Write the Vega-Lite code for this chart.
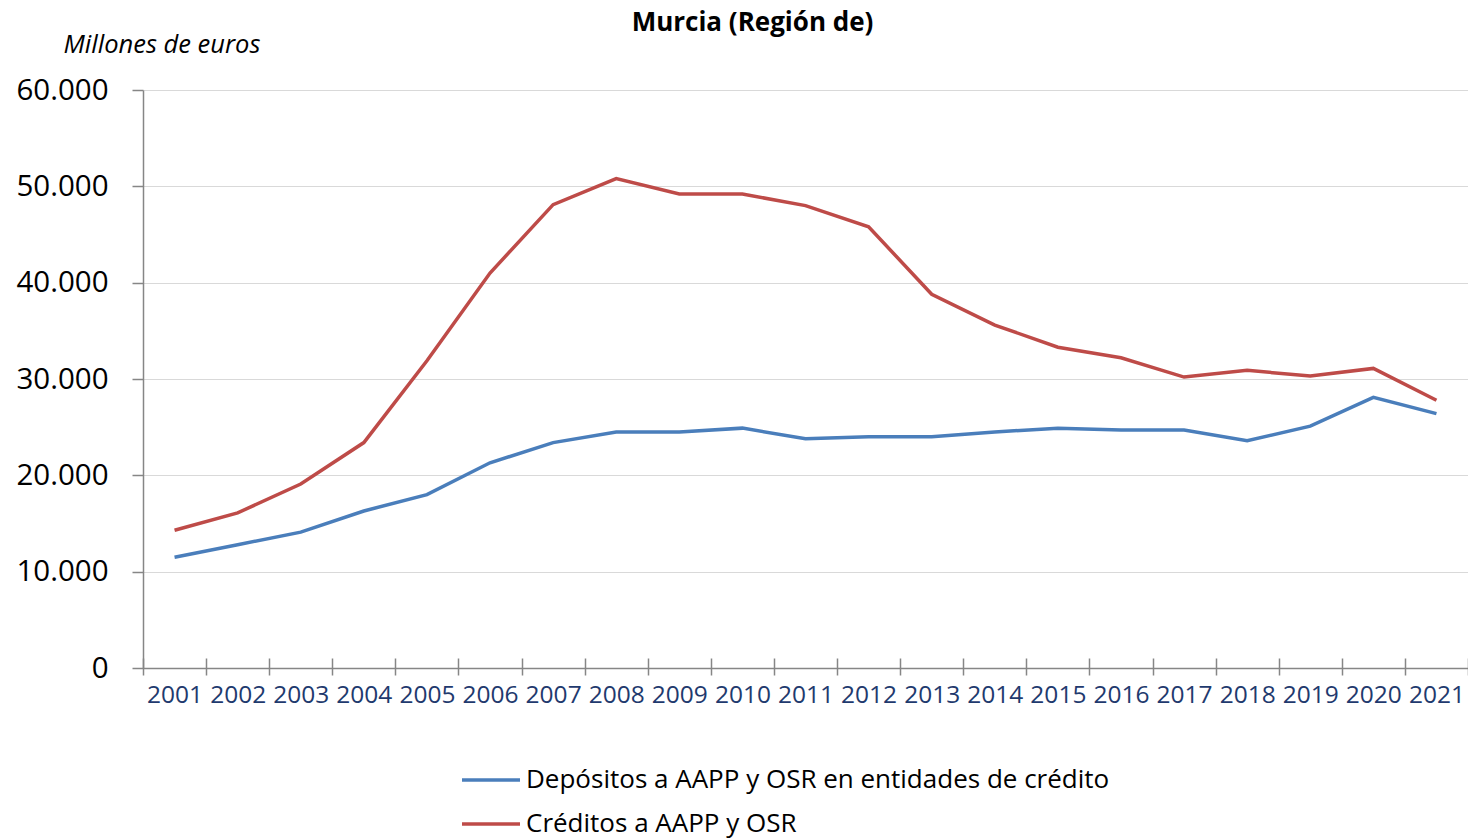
{
  "$schema": "https://vega.github.io/schema/vega-lite/v6.json",
  "autosize": {"type": "none"},
  "width": 1325,
  "height": 578,
  "padding": {"left": 143, "top": 90, "right": 0, "bottom": 171},
  "background": "white",
  "title": {
    "text": "Murcia (Región de)",
    "font": "Open Sans",
    "fontSize": 26,
    "fontWeight": "bold",
    "color": "black",
    "anchor": "middle",
    "frame": "group",
    "dx": -53,
    "dy": 14,
    "offset": 10
  },
  "data": {
    "values": [
      {"year": "2001", "serie": "Depósitos a AAPP y OSR en entidades de crédito", "value": 11500},
      {"year": "2002", "serie": "Depósitos a AAPP y OSR en entidades de crédito", "value": 12800},
      {"year": "2003", "serie": "Depósitos a AAPP y OSR en entidades de crédito", "value": 14100},
      {"year": "2004", "serie": "Depósitos a AAPP y OSR en entidades de crédito", "value": 16300},
      {"year": "2005", "serie": "Depósitos a AAPP y OSR en entidades de crédito", "value": 18000},
      {"year": "2006", "serie": "Depósitos a AAPP y OSR en entidades de crédito", "value": 21300},
      {"year": "2007", "serie": "Depósitos a AAPP y OSR en entidades de crédito", "value": 23400},
      {"year": "2008", "serie": "Depósitos a AAPP y OSR en entidades de crédito", "value": 24500},
      {"year": "2009", "serie": "Depósitos a AAPP y OSR en entidades de crédito", "value": 24500},
      {"year": "2010", "serie": "Depósitos a AAPP y OSR en entidades de crédito", "value": 24900},
      {"year": "2011", "serie": "Depósitos a AAPP y OSR en entidades de crédito", "value": 23800},
      {"year": "2012", "serie": "Depósitos a AAPP y OSR en entidades de crédito", "value": 24000},
      {"year": "2013", "serie": "Depósitos a AAPP y OSR en entidades de crédito", "value": 24000},
      {"year": "2014", "serie": "Depósitos a AAPP y OSR en entidades de crédito", "value": 24500},
      {"year": "2015", "serie": "Depósitos a AAPP y OSR en entidades de crédito", "value": 24900},
      {"year": "2016", "serie": "Depósitos a AAPP y OSR en entidades de crédito", "value": 24700},
      {"year": "2017", "serie": "Depósitos a AAPP y OSR en entidades de crédito", "value": 24700},
      {"year": "2018", "serie": "Depósitos a AAPP y OSR en entidades de crédito", "value": 23600},
      {"year": "2019", "serie": "Depósitos a AAPP y OSR en entidades de crédito", "value": 25100},
      {"year": "2020", "serie": "Depósitos a AAPP y OSR en entidades de crédito", "value": 28100},
      {"year": "2021", "serie": "Depósitos a AAPP y OSR en entidades de crédito", "value": 26400},
      {"year": "2001", "serie": "Créditos a AAPP y OSR", "value": 14300},
      {"year": "2002", "serie": "Créditos a AAPP y OSR", "value": 16100},
      {"year": "2003", "serie": "Créditos a AAPP y OSR", "value": 19100},
      {"year": "2004", "serie": "Créditos a AAPP y OSR", "value": 23400},
      {"year": "2005", "serie": "Créditos a AAPP y OSR", "value": 31900},
      {"year": "2006", "serie": "Créditos a AAPP y OSR", "value": 41000},
      {"year": "2007", "serie": "Créditos a AAPP y OSR", "value": 48100},
      {"year": "2008", "serie": "Créditos a AAPP y OSR", "value": 50800},
      {"year": "2009", "serie": "Créditos a AAPP y OSR", "value": 49200},
      {"year": "2010", "serie": "Créditos a AAPP y OSR", "value": 49200},
      {"year": "2011", "serie": "Créditos a AAPP y OSR", "value": 48000},
      {"year": "2012", "serie": "Créditos a AAPP y OSR", "value": 45800},
      {"year": "2013", "serie": "Créditos a AAPP y OSR", "value": 38800},
      {"year": "2014", "serie": "Créditos a AAPP y OSR", "value": 35600},
      {"year": "2015", "serie": "Créditos a AAPP y OSR", "value": 33300},
      {"year": "2016", "serie": "Créditos a AAPP y OSR", "value": 32200},
      {"year": "2017", "serie": "Créditos a AAPP y OSR", "value": 30200},
      {"year": "2018", "serie": "Créditos a AAPP y OSR", "value": 30900},
      {"year": "2019", "serie": "Créditos a AAPP y OSR", "value": 30300},
      {"year": "2020", "serie": "Créditos a AAPP y OSR", "value": 31100},
      {"year": "2021", "serie": "Créditos a AAPP y OSR", "value": 27800}
    ]
  },
  "mark": {"type": "line", "strokeWidth": 3.5},
  "encoding": {
    "x": {
      "field": "year",
      "type": "ordinal",
      "scale": {"type": "band", "paddingInner": 0, "paddingOuter": 0},
      "axis": {
        "title": null,
        "tickBand": "extent",
        "labelAngle": 0,
        "labelFont": "Open Sans",
        "labelFontSize": 24.5,
        "labelColor": "#1F3A6E",
        "labelPadding": 8,
        "tickColor": "#868686",
        "tickSize": 17,
        "tickWidth": 1.5,
        "domain": false,
        "offset": -10,
        "grid": false
      }
    },
    "y": {
      "field": "value",
      "type": "quantitative",
      "scale": {"domain": [0, 60000]},
      "axis": {
        "values": [0, 10000, 20000, 30000, 40000, 50000, 60000],
        "labelExpr": "replace(format(datum.value, ','), ',', '.')",
        "labelFont": "Open Sans",
        "labelFontSize": 29.5,
        "labelColor": "black",
        "labelPadding": 24,
        "tickSize": 11,
        "tickColor": "#868686",
        "tickWidth": 1.5,
        "domainColor": "#868686",
        "domainWidth": 1.5,
        "grid": true,
        "gridColor": {"condition": {"test": "datum.value === 0", "value": "#868686"}, "value": "#D9D9D9"},
        "gridWidth": {"condition": {"test": "datum.value === 0", "value": 1.5}, "value": 1.2},
        "title": "Millones de euros",
        "titleAngle": 0,
        "titleAlign": "left",
        "titleBaseline": "middle",
        "titleX": -80,
        "titleY": -46,
        "titleFont": "Open Sans",
        "titleFontSize": 25.5,
        "titleFontStyle": "italic",
        "titleFontWeight": "normal",
        "titleColor": "black"
      }
    },
    "color": {
      "field": "serie",
      "type": "nominal",
      "scale": {
        "domain": ["Depósitos a AAPP y OSR en entidades de crédito", "Créditos a AAPP y OSR"],
        "range": ["#4A7EBB", "#BE4B48"]
      },
      "legend": {
        "title": null,
        "orient": "none",
        "legendX": 317,
        "legendY": 659,
        "direction": "vertical",
        "columns": 1,
        "symbolType": "stroke",
        "symbolSize": 3364,
        "symbolStrokeWidth": 3.5,
        "labelFont": "Open Sans",
        "labelFontSize": 26,
        "labelColor": "black",
        "labelOffset": 4,
        "rowPadding": -17,
        "labelLimit": 900
      }
    }
  },
  "config": {
    "view": {"stroke": null}
  }
}
